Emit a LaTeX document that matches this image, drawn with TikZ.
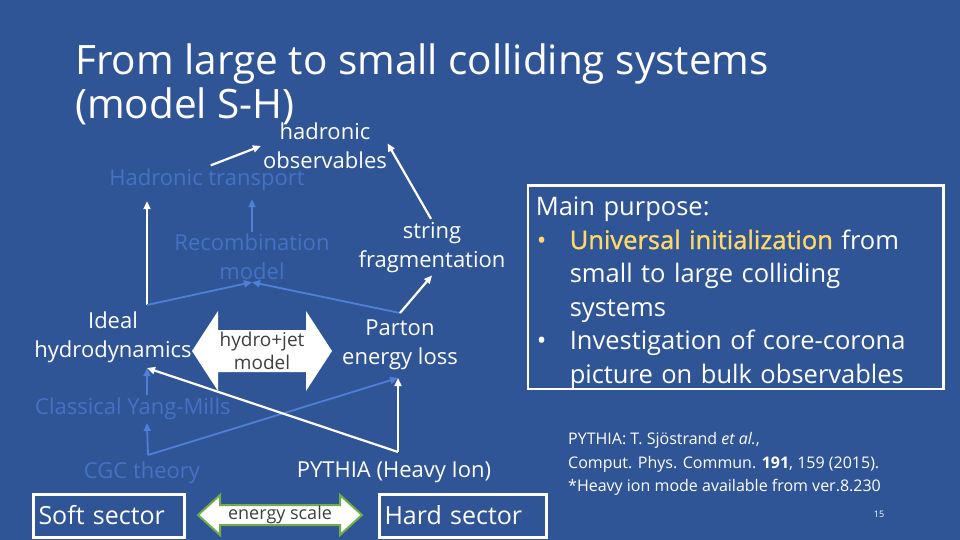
\documentclass[tikz,border=0pt]{standalone}
\usepackage{fontspec}
\setmainfont{Open Sans}
\usetikzlibrary{arrows.meta, positioning}
\definecolor{slideblue}{RGB}{47,85,151}
\definecolor{fadetext}{RGB}{68,114,196}
\definecolor{fadeline}{RGB}{78,128,214}
\definecolor{keygold}{RGB}{255,217,102}
\definecolor{scalegreen}{RGB}{112,173,71}
\definecolor{arrowtext}{RGB}{64,64,64}

\begin{document}
\begin{tikzpicture}[
    x=1pt, y=-1pt,
    lbl/.style={text=white, align=center, inner sep=2pt, font=\fontsize{22}{29}\selectfont},
    faded/.style={lbl, text=fadetext},
    sector/.style={draw=white, line width=3pt, text=white, align=left, inner xsep=5pt, inner ysep=0pt, minimum height=43pt, font=\fontsize{25}{28}\selectfont},
    inarrow/.style={text=arrowtext, align=center, inner sep=0pt},
    arrow/.style={-{Triangle[length=8pt,width=7pt]}, line width=2.2pt, white},
    fadearrow/.style={arrow, line width=1.8pt, fadeline}
]
\useasboundingbox (0,0) rectangle (960,540);
\fill[slideblue] (0,0) rectangle (960,540);

% title
\node[lbl, align=left, anchor=north west, inner sep=0pt, font=\fontsize{40.5}{44}\selectfont] (title) at (75,44) {From large to small colliding systems\\(model S-H)};

% big arrows
\coordinate (hjc) at (262,351);
\fill[white] ([xshift=-70pt]hjc) -- ++(26,-40) -- ++(0,19) -- ++(88,0) -- ++(0,-19) -- ++(26,40)
    -- ++(-26,40) -- ++(0,-19) -- ++(-88,0) -- ++(0,19) -- cycle;
\node[inarrow, font=\fontsize{19}{23}\selectfont] (hydrojet) at (hjc) {hydro+jet\\model};

\coordinate (esc) at (280,515);
\filldraw[fill=white, draw=scalegreen, line width=2pt] ([xshift=-82pt]esc) -- ++(22,-20) -- ++(0,10) -- ++(120,0) -- ++(0,-10) -- ++(22,20)
    -- ++(-22,20) -- ++(0,-10) -- ++(-120,0) -- ++(0,10) -- cycle;
\node[inarrow, font=\fontsize{18}{20}\selectfont] (escale) at (esc) {energy scale};

% model nodes
\node[faded] (trans) at (207,180) {Hadronic transport};
\node[lbl] (obs) at (325,146) {hadronic\\observables};
\node[faded] (recomb) at (252,257) {Recombination\\model};
\node[lbl] (strfrag) at (432,248) {string\\fragmentation};
\node[lbl] (hydro) at (113,337) {Ideal\\hydrodynamics};
\node[lbl] (parton) at (400,345) {Parton\\energy loss};
\node[faded, anchor=west] (cym) at (33,409) {Classical Yang-Mills};
\node[faded] (cgc) at (142,473) {CGC theory};
\node[lbl] (pythia) at (394,472) {PYTHIA (Heavy Ion)};

% sectors
\node[sector, text width=141pt] (soft) at (109,515.5) {Soft sector};
\node[sector, text width=157pt] (hard) at (463,515.5) {Hard sector};

% junction points
\coordinate (hydtop) at (147,305);
\coordinate (hydbot) at (147,368);
\coordinate (cymtop) at (147,395);
\coordinate (cymbot) at (147,423);
\coordinate (cgctop) at (148,455);
\coordinate (pytop) at (398,452);
\coordinate (partbot) at (398,378);
\coordinate (parttop) at (400,313);

% connectors
\draw[arrow, shorten <=4pt] (trans.north) -- (obs.west);
\draw[arrow, shorten <=2pt, shorten >=-3pt] (strfrag.north) -- (obs.east);
\draw[arrow, shorten >=8pt] (hydtop) -- (hydtop |- trans.south);
\draw[fadearrow] (hydtop) -- (recomb.south);
\draw[fadearrow] (parttop) -- (recomb.south);
\draw[arrow] (parttop) -- (strfrag.south);
\draw[fadearrow, shorten >=6pt] (recomb.north) -- (recomb.north |- trans.south);
\draw[fadearrow] (cymtop) -- (hydbot);
\draw[fadearrow] (cgctop) -- (cymbot);
\draw[fadearrow] (cgctop) -- (partbot);
\draw[arrow] (pytop) -- (partbot);
\draw[arrow] (pytop) -- (hydbot);

% purpose box
\node[draw=white, line width=2.5pt, minimum width=415.5pt, minimum height=203.5pt] (purpose) at (735.5,287) {};
\node[text=white, align=left, text width=399.5pt, inner sep=0pt, font=\fontsize{25.5}{33.5}\selectfont]
    (purposetxt) at ([yshift=-6pt]purpose.center) {Main purpose:\\
\makebox[34pt][l]{\hspace{1pt}\textcolor{keygold}{•}}\textcolor{keygold}{\addfontfeature{FakeBold=1.2}Universal initialization} from\\
\hspace*{34pt}small to large colliding\\
\hspace*{34pt}systems\\
\makebox[34pt][l]{\hspace{1pt}•}Investigation of core-corona\\
\hspace*{34pt}picture on bulk observables};

% reference
\node[lbl, align=left, anchor=west, font=\fontsize{16}{23.5}\selectfont] (refs) at (566,464) {PYTHIA: T. Sjöstrand \textit{et al.},\\Comput. Phys. Commun. \textbf{191}, 159 (2015).\\{}*Heavy ion mode available from ver.8.230};
\node[lbl, font=\fontsize{9}{10}\selectfont] (pagenum) at (879,514) {15};
\end{tikzpicture}
\end{document}
